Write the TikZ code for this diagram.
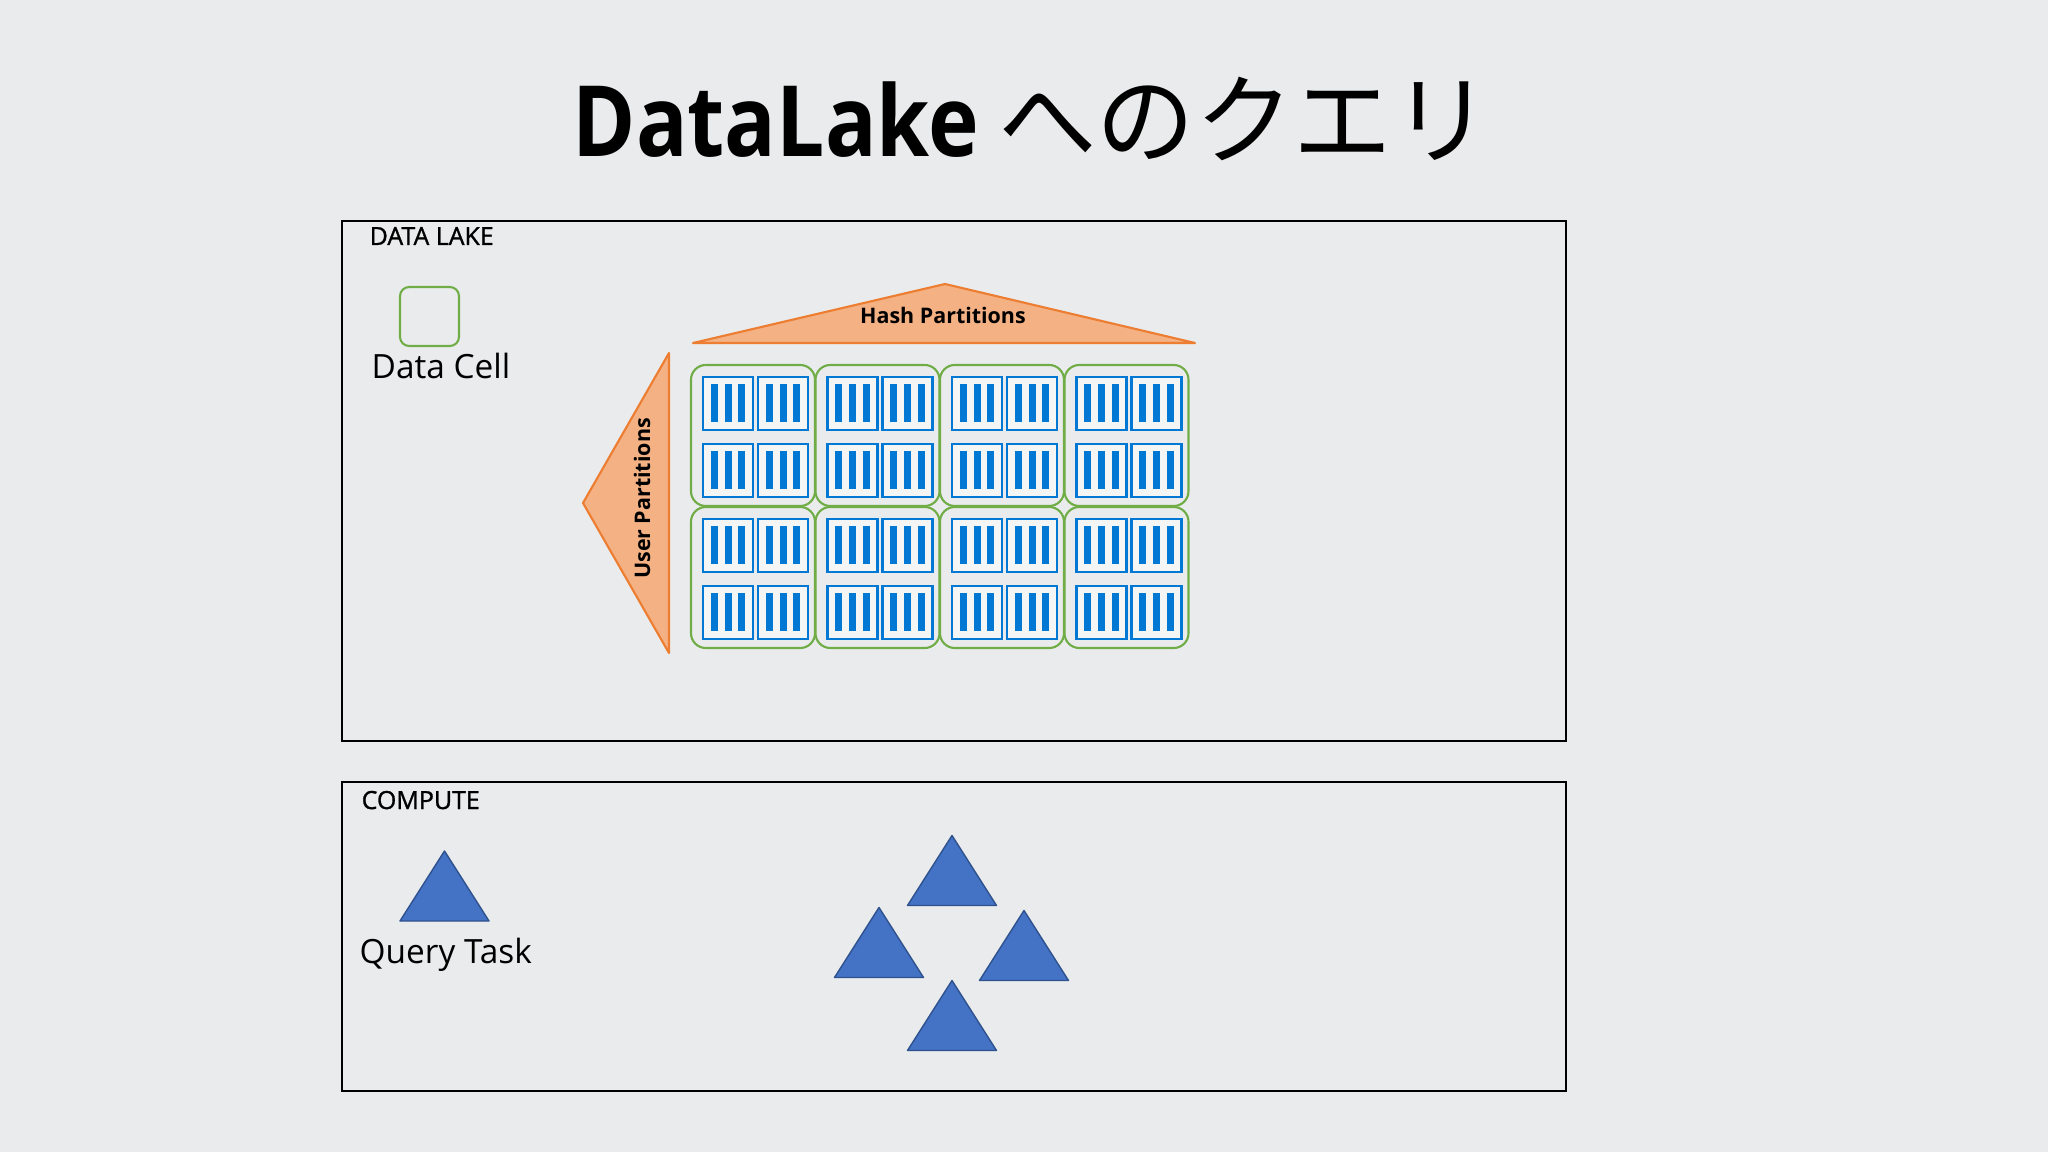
\documentclass[tikz,border=0pt]{standalone}
\usepackage{fontspec}
\setmainfont{Open Sans}
\newfontfamily\jpfont{Noto Sans CJK JP}
\newfontfamily\titlefont{Open Sans}[FakeStretch=0.87]
\newfontfamily\tagfont{Open Sans}[FakeBold=1.2]
\definecolor{bg}{HTML}{E9EBEC}
\definecolor{cellgreen}{HTML}{70AD47}
\definecolor{barblue}{HTML}{0078D4}
\definecolor{roofline}{HTML}{ED7D31}
\definecolor{rooffill}{HTML}{F4B183}
\definecolor{taskfill}{HTML}{4472C4}
\definecolor{taskline}{HTML}{2F528F}

\tikzset{
  panel/.style={draw=black, line width=0.5pt},
  cell/.style={draw=cellgreen, line width=0.6pt, rounded corners=4.2pt},
  roof/.style={draw=roofline, fill=rooffill, line width=0.6pt, line join=round},
  label/.style={inner sep=0pt, font=\fontsize{9.5}{11}\selectfont},
  tag/.style={inner sep=0pt, font=\tagfont\fontsize{7.1}{8}\selectfont},
  roofname/.style={inner sep=0pt, font=\bfseries\fontsize{6.1}{7}\selectfont},
  store/.pic={
    \draw[barblue, line width=0.6pt, fill=bg!50!white] (-0.25,-0.265) rectangle (0.25,0.265);
    \foreach \b in {-0.14,0,0.135}
      \fill[barblue] (\b-0.035,-0.19) rectangle (\b+0.035,0.19);
  },
  task/.pic={
    \draw[taskline, fill=taskfill, line width=0.4pt, line join=round]
      (0,0.35) -- (-0.445,-0.35) -- (0.445,-0.35) -- cycle;
  }
}

\begin{document}
\begin{tikzpicture}
\useasboundingbox (0,0) rectangle (20.48,-11.52);
\fill[bg] (0,0) rectangle (20.48,-11.52);

% title
\node (title) [anchor=base west, inner sep=0pt, font=\fontsize{28}{32}\selectfont] at (5.72,-1.57)
  {{\titlefont\bfseries DataLake}\hspace{0.2em}{\jpfont へのクエリ}};

% data lake panel
\draw[panel] (3.42,-2.21) rectangle (15.66,-7.41);
\node (lake) [tag, anchor=base west] at (3.69,-2.45) {DATA LAKE};
\draw[cell, rounded corners=2.6pt] (4.00,-2.87) rectangle (4.59,-3.46);
\node (datacell) [label, anchor=base west] at (3.71,-3.79) {Data Cell};

% partitions
\draw[roof] (6.93,-3.43) -- (9.45,-2.84) -- (11.95,-3.43) -- cycle;
\node (hash) [roofname, anchor=base] at (9.43,-3.24) {Hash Partitions};
\draw[roof] (6.69,-3.53) -- (5.83,-5.03) -- (6.69,-6.53) -- cycle;
\node (user) [roofname, anchor=base, rotate=90] at (6.50,-4.985) {User Partitions};

\foreach \c in {0,...,3}
  \foreach \r in {0,1} {
    \draw[cell] (6.91+1.245*\c,-3.65-1.42*\r) rectangle ++(1.24,-1.41);
    \foreach \i in {0,1}
      \foreach \j in {0,1}
        \pic at (6.91+1.245*\c+0.37+0.55*\i,-3.65-1.42*\r-0.385-0.67*\j) {store};
  }

% compute panel
\draw[panel] (3.42,-7.82) rectangle (15.66,-10.91);
\node (compute) [tag, anchor=base west] at (3.61,-8.09) {COMPUTE};
\pic at (4.445,-8.86) {task};
\node (querytask) [label, anchor=base west] at (3.59,-9.63) {Query Task};

\pic at (9.52,-8.705) {task};
\pic at (8.79,-9.425) {task};
\pic at (10.24,-9.455) {task};
\pic at (9.52,-10.155) {task};
\end{tikzpicture}
\end{document}
